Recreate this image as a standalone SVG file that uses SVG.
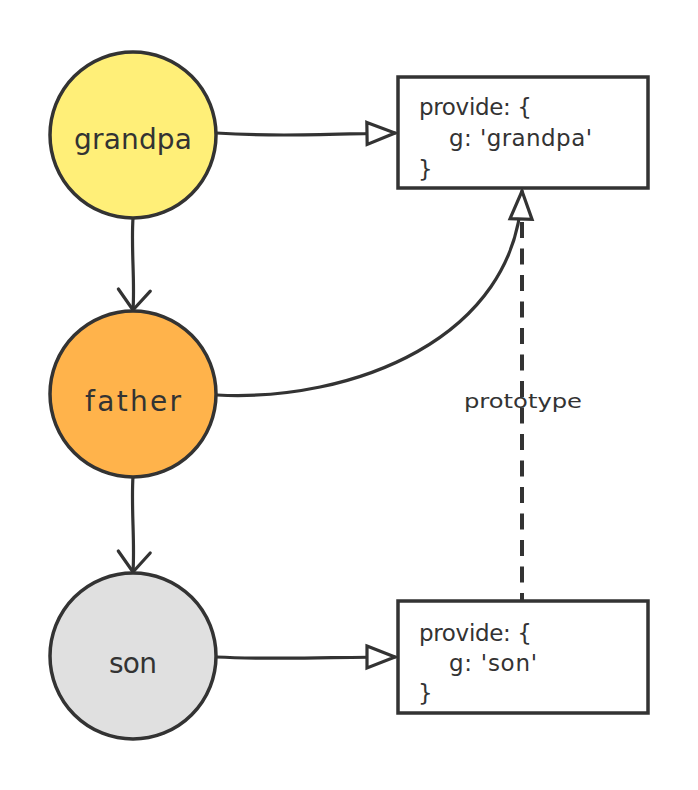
<svg xmlns="http://www.w3.org/2000/svg" width="698" height="790" viewBox="0 0 698 790">
<style>
.node{stroke:#333;stroke-width:3.5}
.lbl{font-family:"DejaVu Sans","Liberation Sans",sans-serif;font-size:28px;fill:#333;text-anchor:middle}
.code{font-family:"DejaVu Sans","Liberation Sans",sans-serif;font-size:23px;fill:#333}
.edge{fill:none;stroke:#333;stroke-width:3.2;stroke-linecap:round}
.dash{stroke-width:4;stroke-dasharray:16 10.5;stroke-dashoffset:8;stroke-linecap:butt}
.ann{font-family:"DejaVu Sans","Liberation Sans",sans-serif;font-size:20px;fill:#333;text-anchor:middle}
</style>
<defs>
<marker id="tri" markerUnits="userSpaceOnUse" markerWidth="40" markerHeight="30" refX="0" refY="0" orient="auto" overflow="visible">
<path d="M-28,-11 L0,0 L-28,11 Z" fill="#fff" stroke="#333" stroke-width="3.2" stroke-linejoin="miter"/>
</marker>
<marker id="vee" markerUnits="userSpaceOnUse" markerWidth="40" markerHeight="40" refX="0" refY="0" orient="auto" overflow="visible">
<path d="M-20,-16 L0,0 L-20,16" fill="none" stroke="#333" stroke-width="3.2" stroke-linecap="round" stroke-linejoin="round"/>
</marker>
</defs>
<rect width="698" height="790" fill="#fff"/>
<g id="connectors">
<path class="edge" d="M216,133 C280,137 330,134 395,133" marker-end="url(#tri)"/>
<path class="edge" d="M133,218 C131,250 135,280 133,310" marker-end="url(#vee)"/>
<path class="edge" d="M133,476 C131,510 135,540 133,572" marker-end="url(#vee)"/>
<path class="edge" d="M217,395 C350,402 517,340 522,191" marker-end="url(#tri)"/>
<path class="edge" d="M216,657 C280,660 330,657 395,657" marker-end="url(#tri)"/>
<path class="edge dash" d="M522,601 L522,221"/>
<text class="ann" x="523" y="408" textLength="118" lengthAdjust="spacingAndGlyphs">prototype</text>
</g>
<g id="grandpa">
<circle class="node" cx="133" cy="135" r="83" fill="#FFEF78"/>
<text class="lbl" x="133" y="149" textLength="118">grandpa</text>
</g>
<g id="father">
<circle class="node" cx="133" cy="394" r="83" fill="#FFB34B"/>
<text class="lbl" x="133" y="411" textLength="96">father</text>
</g>
<g id="son">
<circle class="node" cx="133" cy="656" r="83" fill="#E0E0E0"/>
<text class="lbl" x="133" y="673" textLength="48">son</text>
</g>
<g id="box-grandpa">
<rect class="node" x="398" y="77" width="250" height="111" fill="#fff"/>
<text class="code" x="419" y="115" textLength="113">provide: {</text>
<text class="code" x="449" y="146" textLength="143">g: 'grandpa'</text>
<text class="code" x="418" y="177">}</text>
</g>
<g id="box-son">
<rect class="node" x="398" y="601" width="250" height="112" fill="#fff"/>
<text class="code" x="419" y="641" textLength="113">provide: {</text>
<text class="code" x="449" y="671" textLength="88">g: 'son'</text>
<text class="code" x="418" y="701">}</text>
</g>
</svg>
